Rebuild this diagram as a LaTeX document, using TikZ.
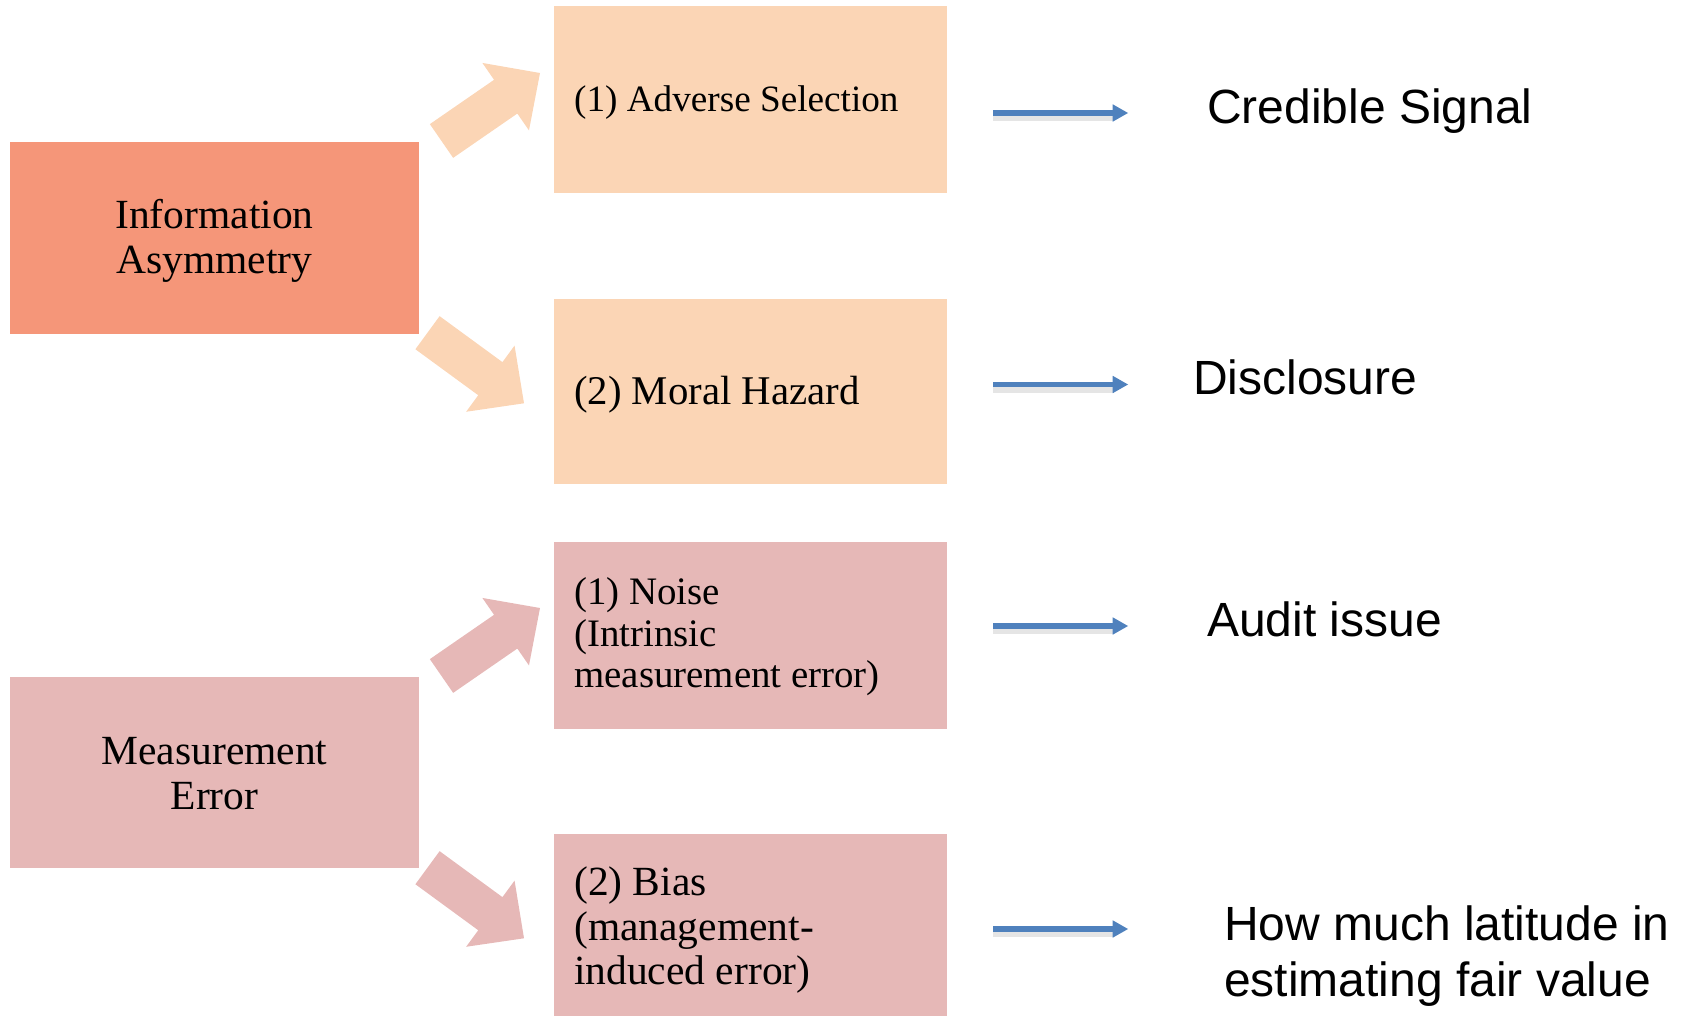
\documentclass[tikz,border=0pt]{standalone}
\usepackage{fontspec}
\setmainfont{Liberation Serif}
\newfontfamily\sansfam{Liberation Sans}
\usetikzlibrary{calc}

\definecolor{salmon}{HTML}{F59679}
\definecolor{peach}{HTML}{FBD5B5}
\definecolor{rosy}{HTML}{E6B8B7}
\definecolor{arrowblue}{HTML}{4F81BD}

% Wide block arrow from tail #2 to tip #3, filled with #1
\newcommand\blkarrow[3]{%
  \coordinate (ba-base) at ($(#3)!41.7pt!(#2)$);
  \fill[#1] ($(#2)!20.5pt!90:(#3)$) -- ($(ba-base)!20.5pt!90:(#3)$)
    -- ($(ba-base)!41pt!90:(#3)$) -- (#3) -- ($(ba-base)!41pt!-90:(#3)$)
    -- ($(ba-base)!20.5pt!-90:(#3)$) -- ($(#2)!20.5pt!-90:(#3)$) -- cycle;
}
% Thin blue arrow with a soft shadow, from coordinate #1 to coordinate #2
\newcommand\bluearrow[2]{%
  \draw[line width=8pt, black, opacity=0.10] ([yshift=-4pt]#1) -- ([yshift=-4pt,xshift=-14pt]#2);
  \draw[line width=5.7pt, arrowblue] (#1) -- ([xshift=-14pt]#2);
  \fill[arrowblue] (#2) -- ([xshift=-15.3pt,yshift=8.7pt]#2) -- ([xshift=-15.3pt,yshift=-8.7pt]#2) -- cycle;
}

\tikzset{
  box/.style={rectangle, inner sep=0pt, outer sep=0pt, draw=none},
  bigbox/.style={box, minimum width=409pt},
  smallbox/.style={box, minimum width=393pt, minimum height=187pt},
  ctext/.style={inner sep=0pt, align=center, font=\fontsize{41.5}{45}\selectfont},
  ltext/.style={inner sep=0pt, align=left, anchor=west},
  rtext/.style={inner sep=0pt, anchor=base west,
    font=\sansfam\fontsize{48}{56}\selectfont},
}

\begin{document}
\begin{tikzpicture}[x=1pt, y=-1pt]
\useasboundingbox (0,0) rectangle (1684,1016);

% source boxes
\node[bigbox, fill=salmon, minimum height=192pt] (ia) at (214.5,238) {};
\node[bigbox, fill=rosy, minimum height=191pt] (me) at (214.5,772.5) {};
\node[ctext] (iat) at ([yshift=-3pt]ia.center) {Information\\Asymmetry};
\node[ctext] (met) at ([yshift=-1pt]me.center) {Measurement\\Error};

% consequence boxes
\node[smallbox, fill=peach] (as) at (750.5,99.5) {};
\node[smallbox, fill=peach, minimum height=184pt] (mh) at (750.5,391.5) {};
\node[smallbox, fill=rosy] (no) at (750.5,635) {};
\node[smallbox, fill=rosy] (bi) at (750.5,927.5) {};
\node[ltext, font=\fontsize{37.2}{41}\selectfont] (ast) at ([xshift=20pt,yshift=-3pt]as.west) {(1) Adverse Selection};
\node[ltext, font=\fontsize{40.8}{45}\selectfont] (mht) at ([xshift=20pt,yshift=-3pt]mh.west) {(2) Moral Hazard};
\node[ltext, font=\fontsize{38.9}{41.5}\selectfont] (not) at ([xshift=20pt,yshift=-2pt]no.west) {(1) Noise\\(Intrinsic\\measurement error)};
\node[ltext, font=\fontsize{41.5}{44.5}\selectfont] (bit) at ([xshift=20pt,yshift=-3pt]bi.west) {(2) Bias\\(management-\\induced error)};

% block arrows
\coordinate (t1) at (441.5,141);   \coordinate (h1) at (540,73);
\coordinate (t2) at (427.5,332.7); \coordinate (h2) at (524,403.3);
\coordinate (t3) at (441.5,676);   \coordinate (h3) at (540,608);
\coordinate (t4) at (427.5,867.7); \coordinate (h4) at (524,938.3);
\blkarrow{peach}{t1}{h1}
\blkarrow{peach}{t2}{h2}
\blkarrow{rosy}{t3}{h3}
\blkarrow{rosy}{t4}{h4}

% outcome texts
\node[rtext] (cs) at (1207,124) {Credible Signal};
\node[rtext] (di) at (1193,394) {Disclosure};
\node[rtext] (au) at (1207,636) {Audit issue};
\node[rtext, anchor=north west, align=left] (hm) at (1224,905.8) {How much latitude in\\estimating fair value};

% blue arrows
\coordinate (s1) at (993,113); \coordinate (e1) at (1128,113);
\coordinate (s2) at (993,384.5); \coordinate (e2) at (1128,384.5);
\coordinate (s3) at (993,626); \coordinate (e3) at (1128,626);
\coordinate (s4) at (993,929); \coordinate (e4) at (1128,929);
\bluearrow{s1}{e1}
\bluearrow{s2}{e2}
\bluearrow{s3}{e3}
\bluearrow{s4}{e4}
\end{tikzpicture}
\end{document}
